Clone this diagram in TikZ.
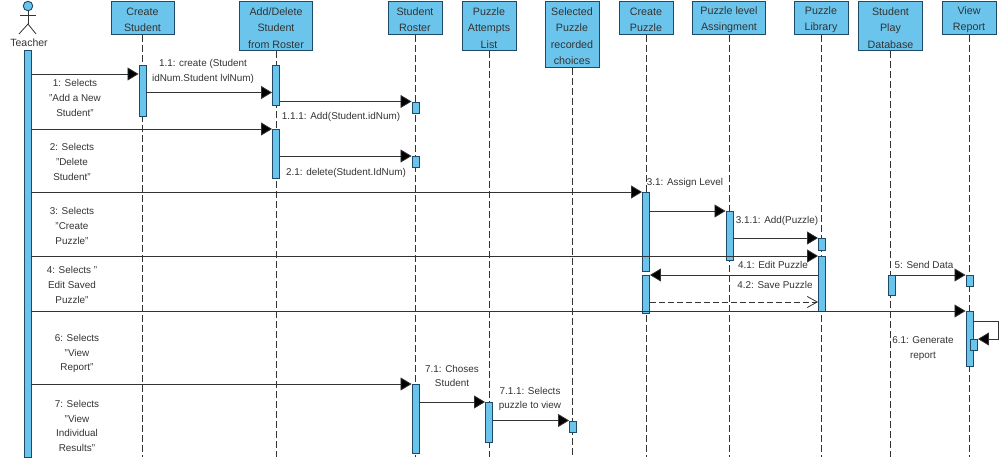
\documentclass[tikz,border=0pt]{standalone}
\usepackage{fontspec}
\setmainfont{Liberation Sans}
\usetikzlibrary{arrows.meta}
\definecolor{barblue}{HTML}{6BC4EC}
\definecolor{bardark}{HTML}{1D4A66}
\definecolor{inkgray}{HTML}{333333}
\newcommand{\hs}{\rule{0pt}{11.5pt}}
\tikzset{
    headbox/.style={draw=bardark, line width=1pt, fill=barblue, text=inkgray, align=center, inner sep=0pt, minimum width=54pt, anchor=north, font=\fontsize{10.7}{16.4}\selectfont},
    actbar/.style={draw=bardark, line width=0.9pt, fill=barblue, inner sep=0pt, minimum width=7pt, anchor=north},
    lifeline/.style={draw=inkgray, line width=0.8pt, dash pattern=on 7pt off 3pt},
    msg/.style={draw=inkgray, line width=0.8pt, -{Triangle[length=11pt,width=13pt,fill=black]}},
    retmsg/.style={draw=inkgray, line width=0.8pt, dash pattern=on 6pt off 3pt, -{Straight Barb[length=10pt,width=11pt]}},
    msglabel/.style={text=inkgray, align=center, inner sep=0pt, font=\fontsize{9.9}{14.6}\selectfont}
}
\begin{document}
\begin{tikzpicture}[x=1pt, y=-1pt]
    \useasboundingbox (0,0) rectangle (1001,460);
    % lifeline heads
    \node[headbox, minimum width=63pt, minimum height=33pt] (cs) at (142.5,1) {\hs Create\\Student};
    \node[headbox, minimum width=73pt, minimum height=49pt] (ads) at (276,1) {\hs Add/Delete\\Student\\from Roster};
    \node[headbox, minimum height=33pt] (sr) at (415,1) {\hs Student\\Roster};
    \node[headbox, minimum height=49pt] (pal) at (489,1) {\hs Puzzle\\Attempts\\List};
    \node[headbox, minimum height=66pt] (spc) at (572,1) {\hs Selected\\Puzzle\\recorded\\choices};
    \node[headbox, minimum height=33pt] (cp) at (646,1) {\hs Create\\Puzzle};
    \node[headbox, minimum width=73pt, minimum height=33pt] (pla) at (729,1) {\hs Puzzle level\\Assingment};
    \node[headbox, minimum height=33pt] (pl) at (821,1) {\hs Puzzle\\Library};
    \node[headbox, minimum width=64pt, minimum height=49pt] (spd) at (890.5,1) {\hs Student\\Play\\Database};
    \node[headbox, minimum height=33pt] (vr) at (969,1) {\hs View\\Report};
    % lifelines
    \draw[lifeline] (cs.south) -- (cs.south |- 0,457);
    \draw[lifeline] (ads.south) -- (ads.south |- 0,457);
    \draw[lifeline] (sr.south) -- (sr.south |- 0,457);
    \draw[lifeline] (pal.south) -- (pal.south |- 0,457);
    \draw[lifeline] (spc.south) -- (spc.south |- 0,457);
    \draw[lifeline] (cp.south) -- (cp.south |- 0,457);
    \draw[lifeline] (pla.south) -- (pla.south |- 0,457);
    \draw[lifeline] (pl.south) -- (pl.south |- 0,457);
    \draw[lifeline] (spd.south) -- (spd.south |- 0,457);
    \draw[lifeline] (vr.south) -- (vr.south |- 0,457);
    % teacher
    \node[circle, draw=bardark, line width=0.9pt, fill=barblue, inner sep=0pt, minimum size=9.5pt] (head) at (28,6) {};
    \coordinate (hip) at (28,24);
    \draw[draw=inkgray, line width=0.8pt] (head.south) -- (hip);
    \draw[draw=inkgray, line width=0.8pt] (20,15.7) -- (36,15.7);
    \draw[draw=inkgray, line width=0.8pt] (19,34) -- (hip) -- (36,34);
    \node[msglabel, font=\fontsize{10.5}{14.6}\selectfont] (teacher) at (29,43) {Teacher};
    % activation bars
    \node[actbar, minimum height=407pt] (tch) at (27.5,50) {};
    \node[actbar, minimum height=51pt] (cs1) at (142.5,65) {};
    \node[actbar, minimum height=40pt] (ads1) at (276,65) {};
    \node[actbar, minimum height=49pt] (ads2) at (276,129) {};
    \node[actbar, minimum height=11pt] (sr1) at (415.5,101.5) {};
    \node[actbar, minimum height=11pt] (sr2) at (415.5,156) {};
    \node[actbar, minimum height=69pt] (sr3) at (415.5,384) {};
    \node[actbar, minimum height=40pt] (pal1) at (489,402) {};
    \node[actbar, minimum height=11pt] (spc1) at (573,420.5) {};
    \node[actbar, minimum height=79pt] (cp1) at (646,192) {};
    \node[actbar, minimum height=38pt] (cp2) at (646,275) {};
    \node[actbar, minimum height=49pt] (pla1) at (729.5,211) {};
    \node[actbar, minimum height=12pt] (pl1) at (822,238) {};
    \node[actbar, minimum height=55pt] (pl2) at (822,256) {};
    \node[actbar, minimum height=20pt] (spd1) at (891.5,275) {};
    \node[actbar, minimum height=11pt] (vr1) at (969.5,275) {};
    \node[actbar, minimum height=55pt] (vr2) at (969.5,311) {};
    \node[actbar, minimum height=11pt] (vr3) at (974,339) {};
    % messages
    \draw[msg] (tch.east |- 0,74) -- (cs1.west |- 0,74);
    \draw[msg] (cs1.east |- 0,92.5) -- (ads1.west |- 0,92.5);
    \draw[msg] (ads1.east |- sr1.north) -- (sr1.north west);
    \draw[msg] (tch.east |- ads2.north) -- (ads2.north west);
    \draw[msg] (ads2.east |- sr2.north) -- (sr2.north west);
    \draw[msg] (tch.east |- cp1.north) -- (cp1.north west);
    \draw[msg] (cp1.east |- pla1.north) -- (pla1.north west);
    \draw[msg] (pla1.east |- pl1.north) -- (pl1.north west);
    \draw[msg] (tch.east |- pl2.north) -- (pl2.north west);
    \draw[msg] (pl2.west |- cp2.north) -- (cp2.north east);
    \draw[retmsg] (cp2.east |- 0,302) -- (pl2.west |- 0,302);
    \draw[msg] (spd1.north east) -- (vr1.north west);
    \draw[msg] (tch.east |- vr2.north) -- (vr2.north west);
    \draw[msg] (vr2.east |- 0,321) -- (998,321) -- (998,339) -- (vr3.north east);
    \draw[msg] (tch.east |- sr3.north) -- (sr3.north west);
    \draw[msg] (sr3.east |- pal1.north) -- (pal1.north west);
    \draw[msg] (pal1.east |- spc1.north) -- (spc1.north west);
    % message labels
    \node[msglabel] (l1) at (75,98) {1: Selects\\"Add a New\\Student"};
    \node[msglabel] (l11) at (203,71.5) {1.1: create (Student\\idNum.Student lvlNum)};
    \node[msglabel] (l111) at (341,117) {1.1.1: Add(Student.idNum)};
    \node[msglabel] (l2) at (72,162) {2: Selects\\"Delete\\Student"};
    \node[msglabel] (l21) at (346,173) {2.1: delete(Student.IdNum)};
    \node[msglabel] (l3) at (72,226) {3: Selects\\"Create\\Puzzle"};
    \node[msglabel] (l31) at (685,183) {3.1: Assign Level};
    \node[msglabel] (l311) at (777,221) {3.1.1: Add(Puzzle)};
    \node[msglabel] (l4) at (72,285) {4: Selects "\\Edit Saved\\Puzzle"};
    \node[msglabel] (l41) at (773,265) {4.1: Edit Puzzle};
    \node[msglabel] (l42) at (775,285) {4.2: Save Puzzle};
    \node[msglabel] (l5) at (924,265) {5: Send Data};
    \node[msglabel] (l6) at (77,353.5) {6: Selects\\"View\\Report"};
    \node[msglabel] (l61) at (923,348.5) {6.1: Generate\\report};
    \node[msglabel] (l7) at (77,426) {7: Selects\\"View\\Individual\\Results"};
    \node[msglabel] (l71) at (452,376) {7.1: Choses\\Student};
    \node[msglabel] (l711) at (530,399) {7.1.1: Selects\\puzzle to view};
\end{tikzpicture}
\end{document}
